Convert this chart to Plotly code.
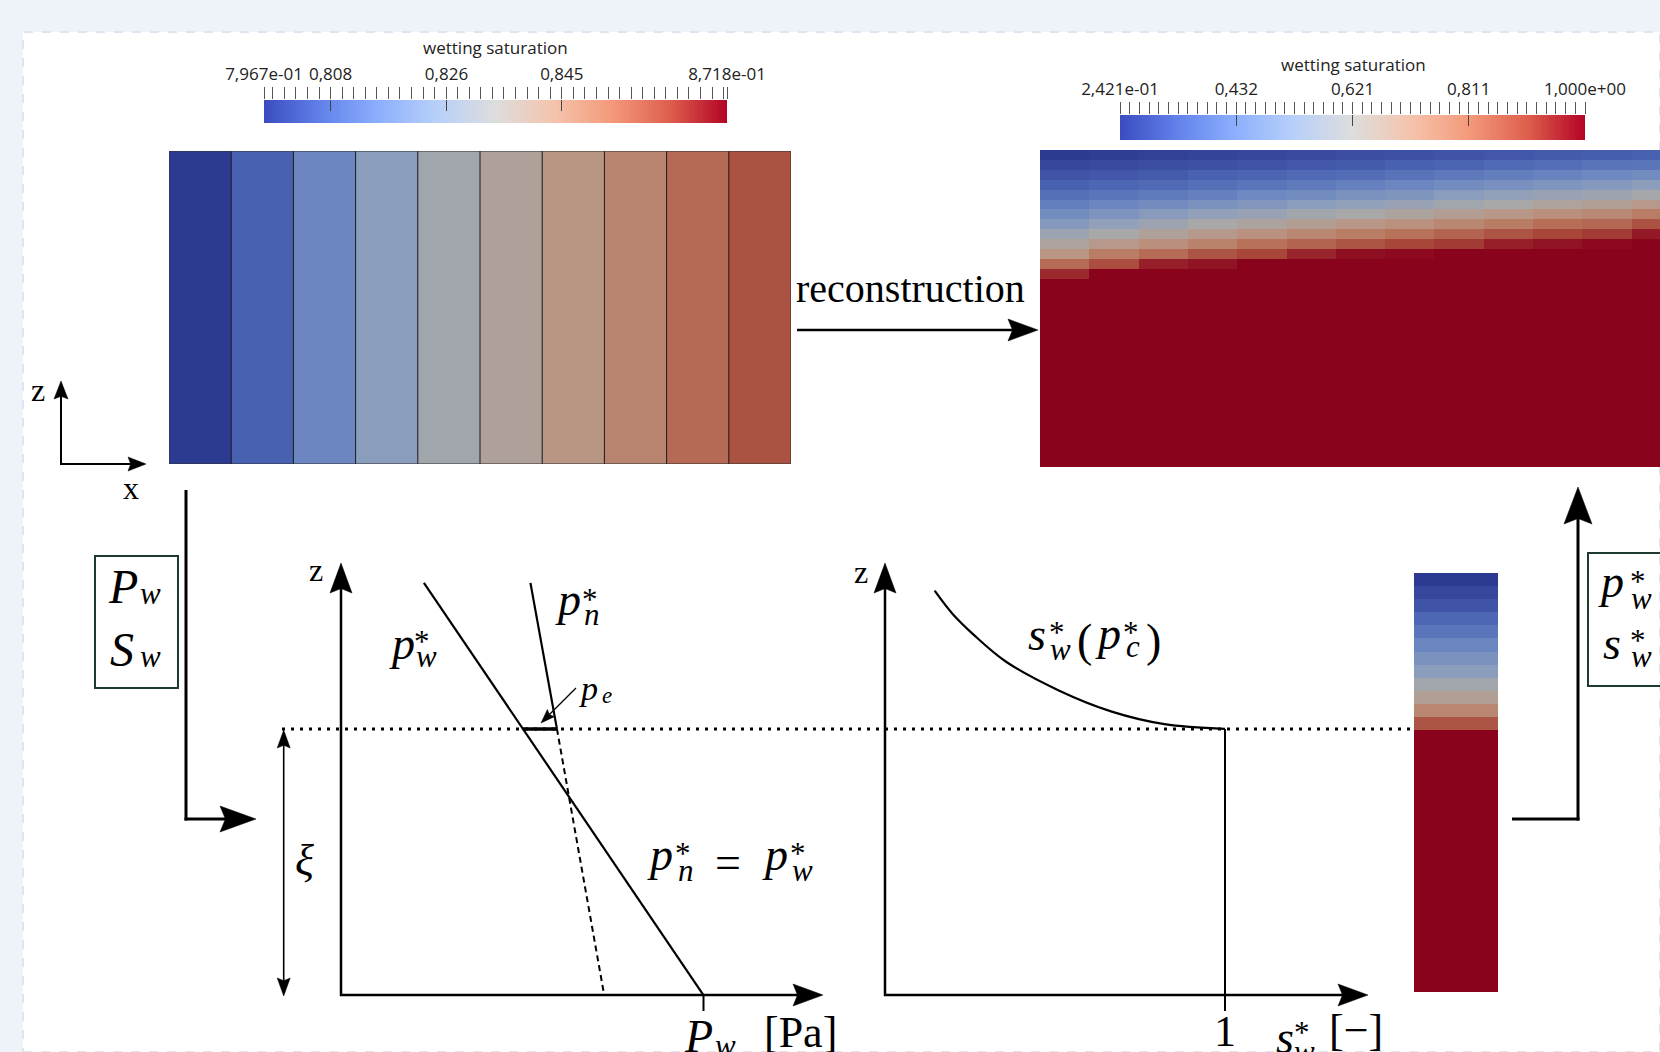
import numpy as np
import plotly.graph_objects as go

W, H = 1660, 1052
SERIF = "Liberation Serif, Times New Roman, serif"
SANS = "Open Sans, Roboto, sans-serif"

# ---------------- data ----------------
# Left panel: 10 coarse cells, wetting saturation
left_min, left_max = 0.7967, 0.8718
left_cells = [0.7967, 0.8057, 0.8155, 0.8245, 0.8320, 0.8380, 0.8433, 0.8485, 0.8553, 0.8605]
left_major_vals = [0.7967, 0.8075, 0.8263, 0.8450, 0.8718]
left_major_text = ["7,967e-01", "0,808", "0,826", "0,845", "8,718e-01"]
left_minor_step = 0.001875

# Right panel: reconstructed fine field (columns, top rows; below: fully saturated)
right_min, right_max = 0.2421, 1.0
right_major_vals = [0.2421, 0.4316, 0.6211, 0.8105, 1.0]
right_major_text = ["2,421e-01", "0,432", "0,621", "0,811", "1,000e+00"]
right_minor_count = 48
field_rows = 32
saturated_value = 1.0
field_top_profiles = [
    [0.242, 0.272, 0.303, 0.333, 0.371, 0.409, 0.454, 0.507, 0.576, 0.644, 0.712, 0.833, 0.947],
    [0.250, 0.280, 0.310, 0.348, 0.386, 0.432, 0.485, 0.545, 0.621, 0.697, 0.788, 0.894],
    [0.257, 0.288, 0.318, 0.356, 0.401, 0.454, 0.515, 0.583, 0.659, 0.735, 0.833, 0.962],
    [0.265, 0.295, 0.333, 0.371, 0.416, 0.477, 0.545, 0.621, 0.697, 0.773, 0.879, 0.977],
    [0.272, 0.303, 0.341, 0.386, 0.439, 0.500, 0.568, 0.644, 0.727, 0.818, 0.909],
    [0.280, 0.310, 0.356, 0.401, 0.454, 0.523, 0.598, 0.674, 0.757, 0.848, 0.954],
    [0.288, 0.318, 0.363, 0.416, 0.477, 0.545, 0.621, 0.704, 0.788, 0.879, 0.985],
    [0.295, 0.333, 0.379, 0.432, 0.492, 0.568, 0.644, 0.727, 0.818, 0.909, 0.992],
    [0.303, 0.341, 0.394, 0.454, 0.523, 0.598, 0.674, 0.757, 0.848, 0.924],
    [0.310, 0.356, 0.409, 0.469, 0.545, 0.621, 0.704, 0.788, 0.879, 0.962],
    [0.318, 0.363, 0.424, 0.492, 0.568, 0.651, 0.735, 0.826, 0.909, 0.977],
    [0.325, 0.379, 0.439, 0.507, 0.583, 0.666, 0.750, 0.841, 0.924, 0.992],
    [0.333, 0.386, 0.454, 0.530, 0.613, 0.697, 0.788, 0.886, 0.970],
]
# Single reconstructed column (lower right)
column_top_profile = [0.242, 0.272, 0.303, 0.348, 0.386, 0.432, 0.477, 0.523, 0.598, 0.666, 0.757, 0.879]

# Schematic (normalised units): left panel pressure vs z
pw_line_p = [0.172, 0.752]
pw_line_z = [0.954, 0.0]
pn_line_p = [0.393, 0.448]
pn_line_z = [0.954, 0.616]
pn_ext_p = [0.448, 0.546]
pn_ext_z = [0.616, 0.0]
xi_level = 0.616
pe_p = [0.377, 0.448]
# Schematic right panel: saturation vs z
sw_curve_s = [0.146, 0.199, 0.262, 0.355, 0.511, 0.667, 0.822, 1.0]
sw_curve_z = [0.936, 0.882, 0.833, 0.772, 0.705, 0.656, 0.627, 0.616]
sw_one = 1.0

# ---------------- styles ----------------
coolwarm = [(0.0, (59, 76, 192)), (0.125, (98, 130, 234)), (0.25, (141, 176, 254)),
            (0.375, (184, 208, 249)), (0.5, (221, 221, 221)), (0.625, (245, 196, 173)),
            (0.75, (244, 154, 123)), (0.875, (222, 96, 77)), (1.0, (180, 4, 38))]
SHADE = 0.76
cs_bright = [[p, "rgb(%d,%d,%d)" % c] for p, c in coolwarm]
cs_shaded = [[p, "rgb(%d,%d,%d)" % tuple(int(round(v * SHADE)) for v in c)] for p, c in coolwarm]


def dx(a, b):
    return [a / W, b / W]


def dy(top, bottom):
    return [1 - bottom / H, 1 - top / H]


hidden = dict(visible=False, fixedrange=True, showgrid=False, zeroline=False, automargin=False)

fig = go.Figure()

# canvas trace (for decorations)
fig.add_trace(go.Scatter(x=[0], y=[0], mode="markers", marker=dict(opacity=0), hoverinfo="skip",
                         xaxis="x", yaxis="y", showlegend=False))

# left cells
n_left = len(left_cells)
fig.add_trace(go.Heatmap(z=[left_cells], x=list(range(n_left)), y=[0], xaxis="x2", yaxis="y2",
                         colorscale=cs_shaded, zmin=left_min, zmax=left_max, showscale=False,
                         hoverinfo="skip"))

# left colorbar
grad_l = np.linspace(left_min, left_max, 400)
fig.add_trace(go.Heatmap(z=[grad_l], x=grad_l, y=[0], xaxis="x3", yaxis="y3", colorscale=cs_bright,
                         zmin=left_min, zmax=left_max, showscale=False, hoverinfo="skip"))
fig.add_trace(go.Scatter(x=[left_min], y=[0], mode="markers", marker=dict(opacity=0), hoverinfo="skip",
                         xaxis="x4", yaxis="y3", showlegend=False))

# right colorbar
grad_r = np.linspace(right_min, right_max, 400)
fig.add_trace(go.Heatmap(z=[grad_r], x=grad_r, y=[0], xaxis="x5", yaxis="y5", colorscale=cs_bright,
                         zmin=right_min, zmax=right_max, showscale=False, hoverinfo="skip"))
fig.add_trace(go.Scatter(x=[right_min], y=[0], mode="markers", marker=dict(opacity=0), hoverinfo="skip",
                         xaxis="x6", yaxis="y5", showlegend=False))

# right field
n_cols = len(field_top_profiles)
field = [[(prof[r] if r < len(prof) else saturated_value) for prof in field_top_profiles]
         for r in range(field_rows)]
fig.add_trace(go.Heatmap(z=field, x=list(range(n_cols)), y=list(range(field_rows)), xaxis="x7", yaxis="y7",
                         colorscale=cs_shaded, zmin=right_min, zmax=right_max, showscale=False,
                         hoverinfo="skip"))

# column
col = [[(column_top_profile[r] if r < len(column_top_profile) else saturated_value)] for r in range(field_rows)]
fig.add_trace(go.Heatmap(z=col, x=[0], y=list(range(field_rows)), xaxis="x8", yaxis="y8",
                         colorscale=cs_shaded, zmin=right_min, zmax=right_max, showscale=False,
                         hoverinfo="skip"))

# schematic panel A
blk = dict(color="black", width=2.2)
fig.add_trace(go.Scatter(x=pw_line_p, y=pw_line_z, mode="lines", line=blk, xaxis="x9", yaxis="y9",
                         showlegend=False, hoverinfo="skip"))
fig.add_trace(go.Scatter(x=pn_line_p, y=pn_line_z, mode="lines", line=blk, xaxis="x9", yaxis="y9",
                         showlegend=False, hoverinfo="skip"))
fig.add_trace(go.Scatter(x=pn_ext_p, y=pn_ext_z, mode="lines", line=dict(color="black", width=2, dash="6px,4px"),
                         xaxis="x9", yaxis="y9", showlegend=False, hoverinfo="skip"))
fig.add_trace(go.Scatter(x=pe_p, y=[xi_level, xi_level], mode="lines", line=dict(color="black", width=3.5),
                         xaxis="x9", yaxis="y9", showlegend=False, hoverinfo="skip"))
# schematic panel B
fig.add_trace(go.Scatter(x=sw_curve_s, y=sw_curve_z, mode="lines",
                         line=dict(color="black", width=2.2, shape="spline", smoothing=1.0),
                         xaxis="x10", yaxis="y10", showlegend=False, hoverinfo="skip"))
fig.add_trace(go.Scatter(x=[sw_one, sw_one], y=[xi_level, -0.037], mode="lines", line=dict(color="black", width=2),
                         xaxis="x10", yaxis="y10", showlegend=False, hoverinfo="skip"))

CB_FONT = dict(family=SANS, size=17, color="#222")


def cbar_axis(domain, rng, vals, text, minor_vals, anchor):
    return dict(domain=domain, range=rng, anchor=anchor, side="top", showgrid=False, zeroline=False,
                showline=False, ticks="outside", ticklen=12, tickwidth=1, tickcolor="#555",
                tickmode="array", tickvals=vals, ticktext=text, automargin=False,
                tickfont=CB_FONT,
                minor=dict(tickmode="array", tickvals=minor_vals, ticks="outside", ticklen=12,
                           tickwidth=1, tickcolor="#555", showgrid=False),
                fixedrange=True)


def overlay_axis(base, anchor, rng, vals):
    return dict(overlaying=base, anchor=anchor, side="top", range=rng, tickmode="array", tickvals=vals,
                ticks="inside", ticklen=11, tickwidth=1, tickcolor="#444", showticklabels=False,
                showgrid=False, zeroline=False, showline=False, fixedrange=True, automargin=False)


left_minor = np.arange(left_major_vals[1] - 5 * left_minor_step, left_max + 1e-9, left_minor_step)
right_minor = np.linspace(right_min, right_max, right_minor_count + 1)

axes = {
    "xaxis": dict(domain=[0, 1], range=[0, W], **hidden),
    "yaxis": dict(domain=[0, 1], range=[H, 0], **hidden),
    "xaxis2": dict(domain=dx(169, 791), range=[-0.5, n_left - 0.5], anchor="y2", **hidden),
    "yaxis2": dict(domain=dy(151, 464), range=[-0.5, 0.5], anchor="x2", **hidden),
    "xaxis3": cbar_axis(dx(264, 727), [left_min, left_max], left_major_vals, left_major_text, left_minor, "y3"),
    "yaxis3": dict(domain=dy(100, 123), range=[-0.5, 0.5], anchor="x3", **hidden),
    "xaxis4": overlay_axis("x3", "y3", [left_min, left_max], left_major_vals[1:4]),
    "xaxis5": cbar_axis(dx(1120, 1585), [right_min, right_max], right_major_vals, right_major_text, right_minor, "y5"),
    "yaxis5": dict(domain=dy(115, 140), range=[-0.5, 0.5], anchor="x5", **hidden),
    "xaxis6": overlay_axis("x5", "y5", [right_min, right_max], right_major_vals[1:4]),
    "xaxis7": dict(domain=dx(1040, 1660), range=[-0.5, -0.5 + 620 / 49.3], anchor="y7", **hidden),
    "yaxis7": dict(domain=dy(150, 467), range=[field_rows - 0.5, -0.5], anchor="x7", **hidden),
    "xaxis8": dict(domain=dx(1414, 1498), range=[-0.5, 0.5], anchor="y8", **hidden),
    "yaxis8": dict(domain=dy(573, 992), range=[field_rows - 0.5, -0.5], anchor="x8", **hidden),
    "xaxis9": dict(domain=dx(341, 823), range=[0, 1], anchor="y9", **hidden),
    "yaxis9": dict(domain=dy(563, 1011), range=[-0.037, 1], anchor="x9", **hidden),
    "xaxis10": dict(domain=dx(885, 1368), range=[0, (1368 - 885) / 340], anchor="y10", **hidden),
    "yaxis10": dict(domain=dy(563, 1011), range=[-0.037, 1], anchor="x10", **hidden),
}

shapes = []
annotations = []

# white panel with dashed border
shapes.append(dict(type="rect", xref="paper", yref="paper", x0=23 / W, x1=1.0, y0=0.0, y1=1 - 32 / H,
                   fillcolor="white", line=dict(color="#dce5f1", width=2, dash="dash"), layer="below"))


def line(x0, y0, x1, y1, w=2.5, color="black", dash=None):
    ln = dict(color=color, width=w)
    if dash:
        ln["dash"] = dash
    shapes.append(dict(type="line", xref="x", yref="y", x0=x0, y0=y0, x1=x1, y1=y1, line=ln, layer="above"))


def head(tx, ty, ddx, ddy, L, Wd, notch=0.15):
    n = (ddx ** 2 + ddy ** 2) ** 0.5
    ux, uy = ddx / n, ddy / n
    nx, ny = -uy, ux
    bx, by = tx - L * ux, ty - L * uy
    p1 = (bx + Wd / 2 * nx, by + Wd / 2 * ny)
    p2 = (tx - L * (1 - notch) * ux, ty - L * (1 - notch) * uy)
    p3 = (bx - Wd / 2 * nx, by - Wd / 2 * ny)
    path = "M %.2f,%.2f L %.2f,%.2f L %.2f,%.2f L %.2f,%.2f Z" % (tx, ty, p1[0], p1[1], p2[0], p2[1], p3[0], p3[1])
    shapes.append(dict(type="path", xref="x", yref="y", path=path, fillcolor="black",
                       line=dict(color="black", width=0.5), layer="above"))


def arrow(x0, y0, x1, y1, w=2.5, L=30, Wd=22):
    ddx, ddy = x1 - x0, y1 - y0
    n = (ddx ** 2 + ddy ** 2) ** 0.5
    ux, uy = ddx / n, ddy / n
    line(x0, y0, x1 - L * 0.7 * ux, y1 - L * 0.7 * uy, w=w)
    head(x1, y1, ddx, ddy, L, Wd)


# left cells borders
for i in range(1, n_left):
    shapes.append(dict(type="line", xref="x2", yref="y2", x0=i - 0.5, x1=i - 0.5, y0=-0.5, y1=0.5,
                       line=dict(color="#1a1a1a", width=1), layer="above"))
shapes.append(dict(type="rect", xref="x2", yref="y2", x0=-0.5, x1=n_left - 0.5, y0=-0.5, y1=0.5,
                   line=dict(color="#333", width=1), layer="above"))

# schematic axes
arrow(341, 996, 341, 563)
arrow(340, 995, 823, 995)
line(703.5, 995, 703.5, 1011, w=2)
arrow(885, 996, 885, 563)
arrow(884, 995, 1368, 995)
# dotted xi level
shapes.append(dict(type="line", xref="x", yref="y9", x0=282, x1=1414, y0=xi_level, y1=xi_level,
                   line=dict(color="black", width=3, dash="3px,6px"), layer="above"))
# xi double arrow
line(283.7, 742, 283.7, 983, w=1.6)
head(283.7, 730, 0, -1, 18, 13)
head(283.7, 996, 0, 1, 18, 13)
# p_e arrow
arrow(576, 688, 541, 723, w=1.3, L=14, Wd=10)
# left flow
line(186, 490, 186, 820.5, w=3)
arrow(184.5, 819, 256, 819, w=3, L=36, Wd=26)
# z-x icon
arrow(61, 465, 61, 381, w=2, L=18, Wd=14)
arrow(60, 464, 146, 464, w=2, L=18, Wd=14)
# reconstruction arrow
arrow(797, 330, 1038, 330, w=2.5, L=30, Wd=22)
# right flow
line(1512, 819, 1579.5, 819, w=3)
arrow(1578, 820.5, 1578, 487, w=3, L=37, Wd=28)
# boxes
shapes.append(dict(type="rect", xref="x", yref="y", x0=95, x1=178, y0=556, y1=688,
                   line=dict(color="#1d3b2e", width=2), layer="above"))
shapes.append(dict(type="rect", xref="x", yref="y", x0=1588, x1=1700, y0=553, y1=686,
                   line=dict(color="#1d3b2e", width=2), layer="above"))


def txt(x, y, s, size, italic=False, family=SERIF, color="black", xanchor="center"):
    annotations.append(dict(x=x, y=y, xref="x", yref="y", text=("<i>%s</i>" % s) if italic else s,
                            showarrow=False, font=dict(family=family, size=size, color=color),
                            xanchor=xanchor, yanchor="middle"))


M = 46   # math size
S = 31   # script size

# colorbar titles
txt(495, 47, "wetting saturation", 17, family=SANS, color="#222")
txt(1353, 64, "wetting saturation", 17, family=SANS, color="#222")

# axis icon labels
txt(38, 390, "z", 32)
txt(131, 488, "x", 32)
txt(316, 570, "z", 32)
txt(861, 572, "z", 32)
txt(910, 288, "reconstruction", 40)

# left box
txt(123, 586, "P", 48, True)
txt(150, 593, "w", 31, True)
txt(122, 649, "S", 48, True)
txt(150, 656, "w", 31, True)
# right box
txt(1611, 581, "p", 46, True)
txt(1641, 598, "w", 31, True)
txt(1638, 581, "*", 31)
txt(1612, 643, "s", 46, True)
txt(1641, 656, "w", 31, True)
txt(1638, 640, "*", 31)

# panel A labels
txt(402, 643, "p", M, True)
txt(426, 656, "w", S, True)
txt(422, 641, "*", S)
txt(568, 599, "p", M, True)
txt(592, 614, "n", S, True)
txt(590, 599, "*", S)
txt(588, 688, "p", 34, True)
txt(607, 695, "e", 23, True)
txt(304, 860, "ξ", 44, True)
txt(660, 854, "p", M, True)
txt(686, 870, "n", S, True)
txt(683, 853, "*", S)
txt(728, 862, "=", M)
txt(775, 854, "p", M, True)
txt(802, 870, "w", S, True)
txt(798, 853, "*", S)
txt(698, 1036, "P", 46, True)
txt(725, 1045, "w", 31, True)
txt(800, 1032, "[Pa]", 44)

# panel B labels
txt(1225, 1031, "1", 44)
txt(1285, 1037, "s", M, True)
txt(1304, 1051, "w", S, True)
txt(1302, 1032, "*", S)
txt(1356, 1030, "[−]", 44)
txt(1037, 634, "s", M, True)
txt(1060, 649, "w", S, True)
txt(1057, 632, "*", S)
txt(1084, 640, "(", M)
txt(1108, 633, "p", M, True)
txt(1133, 646, "c", S, True)
txt(1131, 632, "*", S)
txt(1153, 640, ")", M)

fig.update_layout(
    width=W, height=H, margin=dict(l=0, r=0, t=0, b=0, pad=0, autoexpand=False), autosize=False,
    paper_bgcolor="#eef3fa", plot_bgcolor="rgba(0,0,0,0)", showlegend=False,
    shapes=shapes, annotations=annotations, **axes,
)

fig.write_html("out.html", include_plotlyjs=True, full_html=True, config={"displayModeBar": False})
